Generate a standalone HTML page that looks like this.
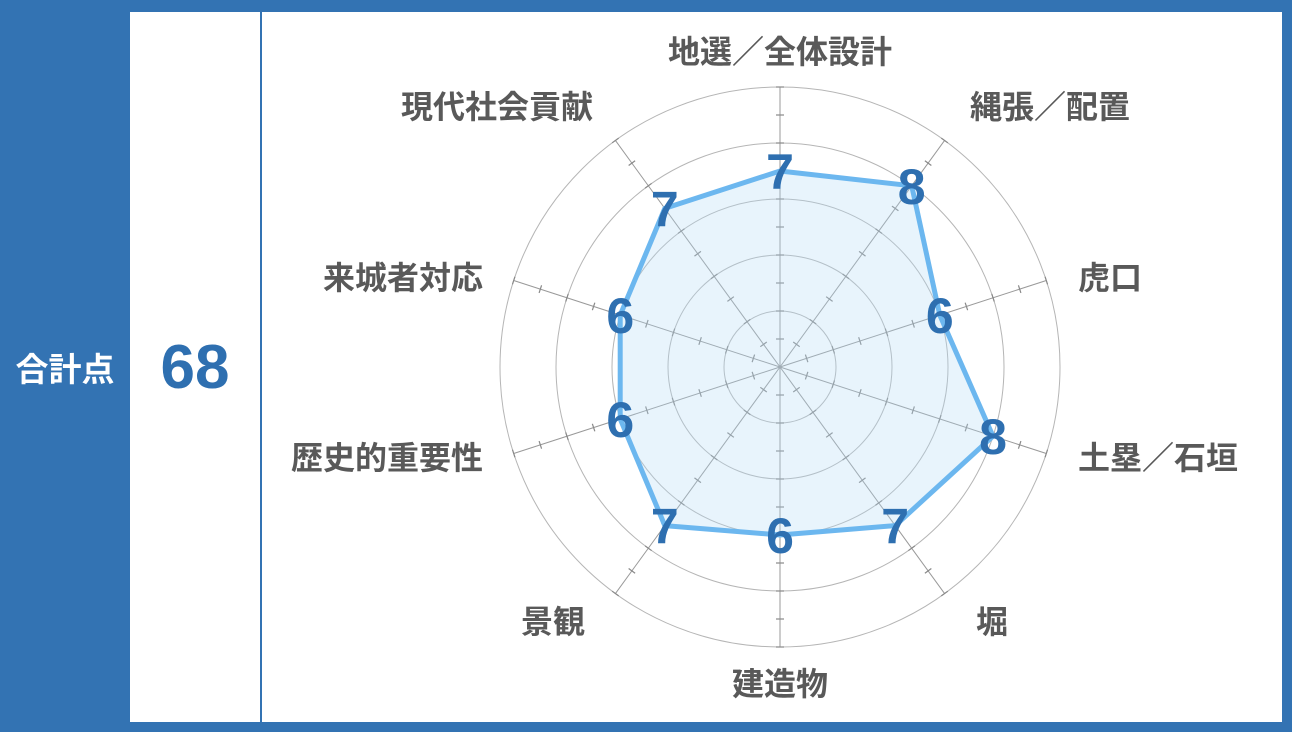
<!DOCTYPE html>
<html><head><meta charset="utf-8"><style>
html,body{margin:0;padding:0;background:#fff;}
body{width:1294px;height:734px;position:relative;overflow:hidden;font-family:"Liberation Sans","Noto Sans CJK JP",sans-serif;}
#frame{position:absolute;left:0;top:0;width:1292px;height:732px;background:#3373b3;}
#w1{position:absolute;left:130px;top:12px;width:130px;height:710px;background:#fff;}
#w2{position:absolute;left:262px;top:12px;width:1020px;height:710px;background:#fff;}
#lbl{position:absolute;left:0;top:345px;width:130px;text-align:center;color:#fff;font-weight:bold;font-size:33px;line-height:44px;font-family:"Noto Sans CJK JP",sans-serif;}
#tot{position:absolute;left:130px;top:330px;width:130px;text-align:center;color:#2e6fb0;font-weight:bold;font-size:62px;line-height:76px;}
svg{position:absolute;left:0;top:0;}
</style></head><body>
<div id="frame"></div><div id="w1"></div><div id="w2"></div>
<div id="lbl">合計点</div>
<div id="tot">68</div>
<svg id="s" width="1294" height="734" xmlns="http://www.w3.org/2000/svg">
<g id="grid"></g>
<g id="data"></g>
<g font-family="Liberation Sans, Noto Sans CJK JP, sans-serif" font-weight="bold" font-size="32" fill="#595959" text-anchor="middle">
<text x="780" y="63">地選／全体設計</text>
<text x="1050" y="118">縄張／配置</text>
<text x="1110" y="289">虎口</text>
<text x="1158" y="469">土塁／石垣</text>
<text x="992" y="633">堀</text>
<text x="780" y="695">建造物</text>
<text x="553" y="633">景観</text>
<text x="387" y="469">歴史的重要性</text>
<text x="403" y="289">来城者対応</text>
<text x="497" y="118">現代社会貢献</text>
</g>
<g id="nums" font-family="Liberation Sans, sans-serif" font-weight="bold" font-size="50" fill="#2e6fb0" text-anchor="middle"></g>
</svg>
<script>
var cx=780,cy=367,u=28,ns="http://www.w3.org/2000/svg";
var vals=[7,8,6,8,7,6,7,6,6,7];
var g=document.getElementById('grid'),d=document.getElementById('data'),n=document.getElementById('nums');
function el(p,t,a){var e=document.createElementNS(ns,t);for(var k in a)e.setAttribute(k,a[k]);p.appendChild(e);return e;}
for(var r=2;r<=10;r+=2)el(g,'circle',{cx:cx,cy:cy,r:r*u,fill:'none',stroke:'#b5b5b5','stroke-width':1});
var pts=[];
for(var i=0;i<10;i++){
 var a=(-90+36*i)*Math.PI/180,c=Math.cos(a),s=Math.sin(a);
 el(g,'line',{x1:cx,y1:cy,x2:cx+280*c,y2:cy+280*s,stroke:'#999','stroke-width':1});
 for(var k=1;k<=10;k++){var x=cx+k*u*c,y=cy+k*u*s;
  el(g,'line',{x1:x-4*s,y1:y+4*c,x2:x+4*s,y2:y-4*c,stroke:'#888','stroke-width':1.2});}
 pts.push((cx+vals[i]*u*c).toFixed(1)+','+(cy+vals[i]*u*s).toFixed(1));
}
el(d,'polygon',{points:pts.join(' '),fill:'rgba(180,220,245,0.3)',stroke:'#6cb7ef','stroke-width':5,'stroke-linejoin':'round'});
for(var i=0;i<10;i++){var a=(-90+36*i)*Math.PI/180;
 var t=el(n,'text',{x:cx+vals[i]*u*Math.cos(a),y:cy+vals[i]*u*Math.sin(a)+18});t.textContent=vals[i];}
</script>
</body></html>
